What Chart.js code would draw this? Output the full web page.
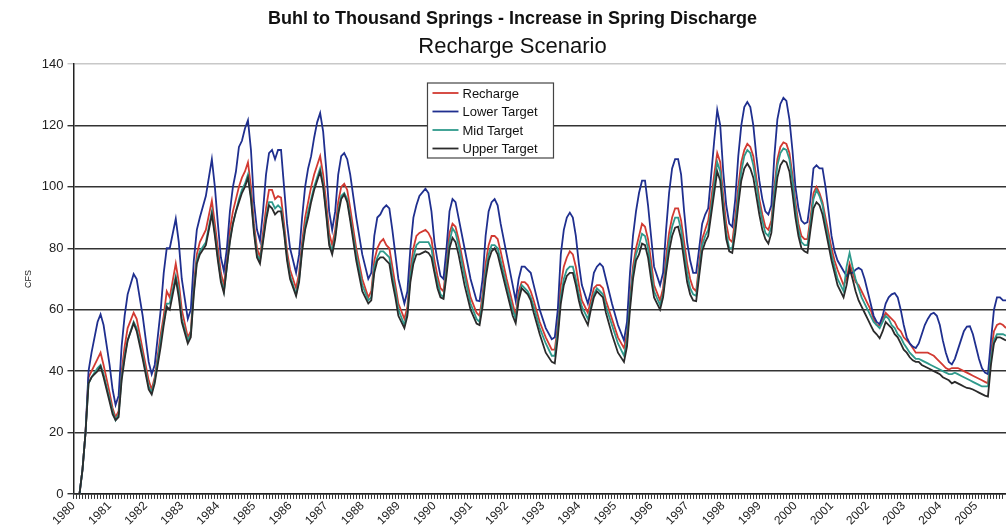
<!DOCTYPE html>
<html>
<head>
<meta charset="utf-8">
<script src="https://cdn.jsdelivr.net/npm/chart.js@4.4.1/dist/chart.umd.min.js"></script>
<style>
  html, body { margin: 0; padding: 0; background: #fff; }
</style>
</head>
<body>
<canvas id="myChart" width="1006" height="529"></canvas>
<script>
// monthly series, x = months since Jan 1980
const startYear = 1980;
const yTicks = [0, 20, 40, 60, 80, 100, 120, 140];

const months = [0,2,3,4,5,6,8,9,10,12,13,14,15,16,17,18,20,21,23,25,26,27,29,30,31,32,34,35,36,38,39,40,41,42,44,46,47,48,49,50,
  51,52,53,54,55,56,57,58,59,60,61,62,63,64,65,66,67,68,69,70,71,72,74,75,76,77,78,79,80,81,82,83,84,85,86,87,88,89,90,91,92,94,96,98,99,
  100,101,102,103,104,105,106,107,108,110,111,112,113,114,115,117,118,119,120,121,122,123,124,125,126,127,128,130,132,134,135,136,137,138,139,
  140,141,142,144,146,147,148,149,150,151,152,153,155,157,159,160,161,162,163,164,165,166,167,168,169,171,172,173,174,175,176,177,179,
  181,183,184,185,186,187,188,189,190,191,192,193,195,196,197,198,199,200,201,202,203,204,205,206,207,208,209,210,211,212,213,214,215,
  216,217,218,219,220,221,222,223,224,225,226,227,228,229,230,231,232,233,234,235,236,237,238,239,240,241,242,243,244,245,246,247,248,249,
  250,251,252,253,254,256,257,258,259,260,261,262,263,264,265,266,267,268,269,270,271,272,273,274,275,276,277,278,279,280,281,282,283,284,
  285,286,287,288,289,290,291,292,293,294,295,296,297,298,299,300,301,302,303,304,305,306,307,308,309,310];

const lowerTarget = [0,0,8,20,40,46,56,58.5,55,42,34,29,32,48,58,65,71.6,70,58,43,39,42,60,72,80,80,89.6,82,70,57,60,76,86,90,97,109,100,88,77,72.6,
  80,92,100,105,113,115,119,121.7,112,95,86,82.4,92,104,111,112,109,112,112,100,88,80,72,78,90,100,106,110,116,121,124,118,106,92,86,92,104,110,111,109,104,90,78,70,72,
  84,90,91,93,94,93,86,78,70,62,66,80,90,94,97,99.4,98,92,82,76,71,70,80,92,96,95,90,80,70,63,62.8,70,84,92,95,
  96,94,88,78,68,63,70,74,74,73,72,68,60,54,50.4,51,60,78,86,90,91.6,90,84,75,68,62,66,72,74,75,74,70,62,
  55,50,56,72,84,92,98,102,102,94,84,74,68,72,86,98,106,109,109,104,92,82,76,72,72,80,88,91,93,104,115,125,120,
  105,94,88,87,96,110,120,126,127.6,126,120,110,102,96,92,91,94,110,122,127,129,128,122,112,100,93,89,88,88.5,96,106,107,106,106,
  100,92,84,79,76,72.6,71,72,72,73,73.6,73,70,66,62,58,56,55.3,58,62,64,65,65.4,64,60,55,51,49,48,47.5,49,52,55,57,
  58.5,59,58,55,50,46,43,42.2,44,47,50,53,54.5,54.6,52,48,44,41,39.5,39,50,60,64,64,63,63];

const recharge = [0,0,8,20,38,40,44,46,42,33,28,25,27,40,48,54,59,57,47,37,34,38,52,58,66,64,75,69,60,51,53,68,78,82,86,95.5,88,80,72,68,
  76,86,92,96,100,103,105,108,100,88,80,77,85,93,99,99,96,97,96.5,88,79,73,67,72,82,90,95,100,104,107,110,104,95,85,81,86,95,100,101,99,93,80,70,64,66,
  76,80,82,83,81,80,74,68,62,57,61,73,80,84,85,86,85,83,76,71,67,66,75,85,88,87,83,73,64,59,58,65,75,81,84,
  84,83,79,70,62,58,66,69,69,68,66,63,56,51,47,47,55,68,74,77,79,78,74,68,63,59,63,67,68,68,67,63,57,
  51,47.5,52,64,74,80,84,88,87,83,76,68,63,67,77,85,90,93,93,89,82,75,70,67,66,75,83,86,89,96,104,111,108,
  97,88,83,82,90,100,108,112,114,113,110,103,96,91,87,86,89,100,109,113,114.5,114,111,104,95,88,84,83,83,90,98,100,98,95,
  90,85,80,76,73,68,70,75,72,69,68,66,64,62,60,57,55,55,57,59,58,57,56,54,53,51,50,49,47.5,46,46,46,46,46,
  45.5,45,44,43,42,41,40.5,41,41,41,40.5,40,39.5,39,38.5,38,37.5,37,36.5,36,46,53,55,55.5,55,54];

const midTarget = [0,0,8,20,36,38,41,42,39,31,27,24,26,38,45,50,56,54,45,35,33,37,50,56,62,62,71,66,57,50,52,66,76,79,82,92,85,77,70,66,
  74,83,88,92,96,99,101,104,97,86,78,76,83,90,95,95,93,94,93,86,77,71,65,70,80,87,92,96,100,103,106,101,92,82,79,84,92,97,98,96,90,78,68,63,64,
  74,77,79,79,78,77,71,66,60,55,59,71,77,81,82,82,82,80,73,69,65,64,73,82,86.5,85,81,71,62,57,56,63,72,78,81,
  81,80,76,68,60,57,64,68,67,66,64,61,54,49,45,45,53,64,70,73,74,74,70,65,61,57,61,65,67,66,65,61,55,
  49,45,50,62,72,78,81,84.7,84,80,73,66,61.5,65,74,82,87,90,90,86,79,72,67,65,64.5,73,81,84,86,93,101,108,105,
  94,85,80,80,87,97,105,110,112,111,107,101,94,89,85,84,87,98,107,111,112.5,112,109,102,93,86,82,81,81,88,96,99,97,94,
  88,83,78,74,70,66,74,78.5,74,70,67,64,62,60,58,56,55,54,56,58,57,55,54,52,51,49,47.5,46,45,44,44,43.5,43,42.5,
  42,41.5,41,40.5,40,39.5,39,39,39.5,39,38.5,38,37.5,37,36.5,36,35.5,35,35,35,44,50,52,52,52,51.5];

const upperTarget = [0,0,8,20,36,38,40,41.5,38,30,26,24,25,37,44,50,55.6,53,44,34,32.4,36,48,55,61,60,70,64,56,49,51,65,75,78,81,91,84,76,69,65.4,
  74,82,88,92,95,98,100,103,96,85,77,75,82,89,94,93,91,92,92,85,76,70,64.5,69,79,86,90,95,99,102,105,100,91,81,78,83,91,96,97.5,95,89,76,66,62,63,
  72,76,77,77,76,75,69,64,58,54,58,69,75,78,78,79,78.5,77,72,67,64,63.5,71,80,83.4,82,78,68,60,55.5,55,61,70,76,79,
  80,78,74,66,58,55.6,63,67,66,65,63,59,52,46,43,42.5,51,62,68,71,72,72,68,63,59,55,60,64,66,65,64,59,52,
  46,43,48,60,70,76,78,81.5,81,77,70,64,60,64,72,79,84,86.7,87,83,76,69,65,63,62.8,71,79,82,84,91,98,105,102,
  92,83,79,78.5,85,94,102,106,107.6,106,103,97,91,86,83,81.5,85,95,103,107,108.6,108,105,98,90,84,80,79,78.5,86,93,95,94,91,
  86,81,76,72,68,64,68,73.6,70,66,63,61,59,57,55,53,52,50.7,53,56,55,54,52,51,49,47,46,44.5,43.5,43,43,42,41.5,41,
  40.5,40,39.5,39,38,37.5,37,36,36.5,36,35.5,35,34.5,34.4,34,33.5,33,32.5,32,31.7,42,49,51,51,50.5,50];

const seriesNames = ['Recharge', 'Lower Target', 'Mid Target', 'Upper Target'];
const seriesColors = ['#d23a32', '#1f2f8f', '#2f9a8c', '#2b2b2b'];
const seriesValues = [recharge, lowerTarget, midTarget, upperTarget];

const FONT = '"Liberation Sans", Arial, sans-serif';

// legend drawn inside the plot, boxed like the original
const boxLegend = {
  id: 'boxLegend',
  afterDraw(chart) {
    const ctx = chart.ctx;
    const a = chart.chartArea;
    const x = a.left + 354, y = a.top + 19, w = 126, h = 75;
    ctx.save();
    ctx.fillStyle = '#fff';
    ctx.fillRect(x, y, w, h);
    ctx.strokeStyle = '#444';
    ctx.lineWidth = 1.2;
    ctx.strokeRect(x, y, w, h);
    ctx.font = '13px ' + FONT;
    ctx.textBaseline = 'middle';
    chart.data.datasets.forEach(function(ds, i) {
      const ly = y + 10 + i * 18.5;
      ctx.strokeStyle = ds.borderColor;
      ctx.lineWidth = 1.8;
      ctx.beginPath();
      ctx.moveTo(x + 5, ly);
      ctx.lineTo(x + 31, ly);
      ctx.stroke();
      ctx.fillStyle = '#111';
      ctx.fillText(ds.label, x + 35, ly + 1);
    });
    ctx.restore();
  }
};

const datasets = seriesNames.map(function(name, i) {
  return {
    label: name,
    data: months.map(function(m, k) { return { x: m, y: seriesValues[i][k] }; }),
    borderColor: seriesColors[i],
    backgroundColor: seriesColors[i],
    borderWidth: 1.8,
    pointRadius: 0,
    tension: 0,
    order: 4 - i
  };
});

const ctx = document.getElementById('myChart').getContext('2d');
new Chart(ctx, {
  type: 'line',
  data: { datasets: datasets },
  plugins: [boxLegend],
  options: {
    responsive: false,
    animation: false,
    layout: { padding: { left: 19, right: 0, top: 0, bottom: 1 } },
    plugins: {
      legend: { display: false },
      tooltip: { enabled: false },
      title: {
        display: true,
        text: 'Buhl to Thousand Springs - Increase in Spring Discharge',
        color: '#111',
        font: { family: FONT, size: 18, weight: 'bold' },
        padding: { top: 8, bottom: 4 }
      },
      subtitle: {
        display: true,
        text: 'Recharge Scenario',
        color: '#111',
        font: { family: FONT, size: 22 },
        padding: { top: 0, bottom: 4 }
      }
    },
    scales: {
      x: {
        type: 'linear',
        min: 0,
        max: 310,
        afterFit: function(scale) { scale.paddingRight = 0; },
        ticks: {
          stepSize: 1,
          maxTicksLimit: 400,
          autoSkip: false,
          minRotation: 45,
          maxRotation: 45,
          color: '#222',
          font: { family: FONT, size: 12 },
          padding: 0,
          callback: function(v) { return v % 12 === 0 ? String(startYear + v / 12) : ''; }
        },
        grid: { drawOnChartArea: false, drawTicks: true, tickLength: 5, color: '#333', lineWidth: 1 },
        border: { color: '#222', width: 1.5 }
      },
      y: {
        min: 0,
        max: 140,
        afterBuildTicks: function(scale) { scale.ticks = yTicks.map(function(v) { return { value: v }; }); },
        ticks: { color: '#222', font: { family: FONT, size: 13 }, padding: 4 },
        title: { display: true, text: 'CFS', color: '#222', font: { family: FONT, size: 9 }, padding: 4 },
        grid: {
          color: function(c) { return c.tick && c.tick.value === 140 ? '#c8c8c8' : '#333'; },
          lineWidth: 1.4,
          tickLength: 6
        },
        border: { color: '#222', width: 1.5 }
      }
    }
  }
});
</script>
</body>
</html>
